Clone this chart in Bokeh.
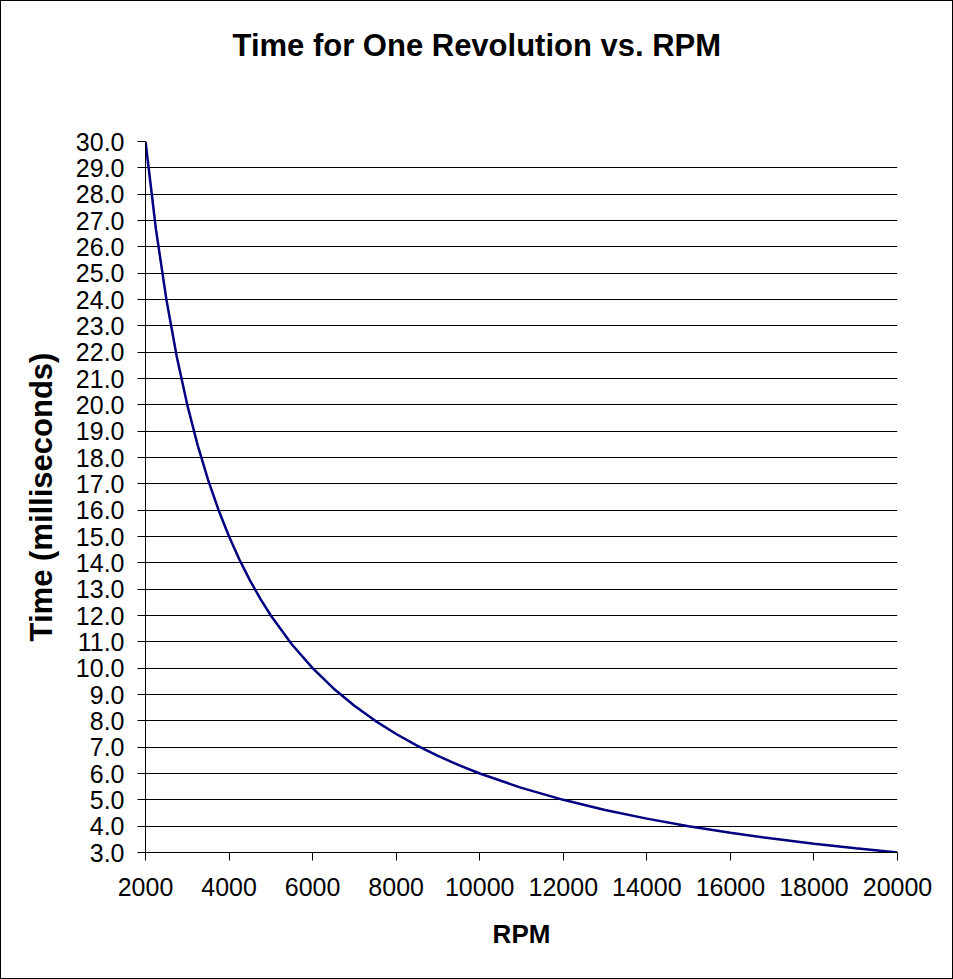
from bokeh.plotting import figure
from bokeh.models import FixedTicker, PrintfTickFormatter, Range1d, Title
from bokeh.embed import file_html
from bokeh.resources import INLINE

rpm = [2000, 2250, 2500, 2750, 3000, 3250, 3500, 3750, 4000, 4250, 4500, 4750,
       5000, 5500, 6000, 6500, 7000, 7500, 8000, 8500, 9000, 9500, 10000,
       11000, 12000, 13000, 14000, 15000, 16000, 17000, 18000, 19000, 20000]
time_ms = [30.0, 26.667, 24.0, 21.818, 20.0, 18.462, 17.143, 16.0, 15.0, 14.118,
           13.333, 12.632, 12.0, 10.909, 10.0, 9.231, 8.571, 8.0, 7.5, 7.059,
           6.667, 6.316, 6.0, 5.455, 5.0, 4.615, 4.286, 4.0, 3.75, 3.529, 3.333,
           3.158, 3.0]
x_ticks = [2000, 4000, 6000, 8000, 10000, 12000, 14000, 16000, 18000, 20000]
y_ticks = [float(v) for v in range(3, 31)]
title_text = "Time for One Revolution vs. RPM"

FONT = "Liberation Sans"

p = figure(width=953, height=979, output_backend="svg", toolbar_location=None,
           x_range=Range1d(2000, 20000), y_range=Range1d(3, 30),
           title=None,
           min_border_left=144, min_border_right=57,
           min_border_top=140, min_border_bottom=128)
p.styles = {"border": "1px solid black"}

# empty spacer panel between the frame and the title
spacer = Title(text=" ", text_font=FONT, text_font_size="31px", standoff=37)
p.add_layout(spacer, "above")

main_title = Title(text=title_text, text_font=FONT, text_font_size="31px",
                   text_font_style="bold", text_color="black",
                   align="left", offset=87, standoff=10)
p.add_layout(main_title, "above")

p.line(rpm, time_ms, line_color="#000080", line_width=2.5)

p.outline_line_color = None
p.background_fill_color = "white"
p.border_fill_color = "white"

p.xgrid.grid_line_color = None
p.ygrid.grid_line_color = "black"
p.ygrid.grid_line_width = 1
p.ygrid.grid_line_alpha = 1.0

p.xaxis.ticker = FixedTicker(ticks=x_ticks)
p.yaxis.ticker = FixedTicker(ticks=y_ticks)
p.yaxis.formatter = PrintfTickFormatter(format="%.1f")

for ax in (p.xaxis, p.yaxis):
    ax.axis_line_color = "black"
    ax.major_tick_line_color = "black"
    ax.minor_tick_line_color = None
    ax.major_tick_in = 0
    ax.major_tick_out = 8
    ax.major_label_text_font = FONT
    ax.major_label_text_font_size = "25px"
    ax.major_label_text_color = "black"
    ax.axis_label_text_font = FONT
    ax.axis_label_text_font_style = "bold"
    ax.axis_label_text_color = "black"

p.xaxis.axis_label = "RPM"
p.yaxis.axis_label = "Time (milliseconds)"
p.xaxis.axis_label_text_font_size = "26px"
p.yaxis.axis_label_text_font_size = "31px"
p.xaxis.major_label_standoff = 17
p.yaxis.major_label_standoff = 13
p.xaxis.axis_label_standoff = 20
p.yaxis.axis_label_standoff = 14

open("out.html", "w").write(file_html(p, INLINE))
